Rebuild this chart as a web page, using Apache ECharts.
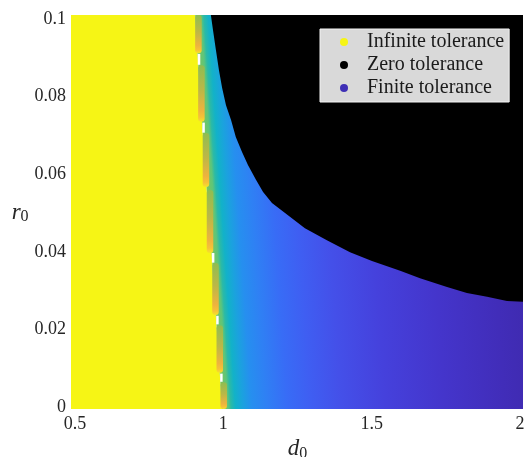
<!DOCTYPE html>
<html><head><meta charset="utf-8">
<script src="https://cdn.jsdelivr.net/npm/echarts@6/dist/echarts.min.js"></script>
<style>html,body{margin:0;padding:0;background:#fff}#c{width:524px;height:457px}</style>
</head><body><div id="c"></div>
<script>
// ---- axis ticks ----
const xTicks = [0.5, 1, 1.5, 2];
const yTicks = [0, 0.02, 0.04, 0.06, 0.08, 0.1];
const xTickLabels = ['0.5', '1', '1.5', '2'];
const yTickLabels = ['0', '0.02', '0.04', '0.06', '0.08', '0.1'];

// ---- boundary of the infinite-tolerance (yellow) region: d0 at given r0 ----
const yellowEdgeR = [0, 0.02, 0.04, 0.06, 0.08, 0.1];
const yellowEdgeD = [0.996, 0.978, 0.960, 0.940, 0.922, 0.905];

// ---- boundary of the zero-tolerance (black) region ----
const zeroEdgeD = [0.958, 0.965, 0.975, 0.985, 0.996, 1.009, 1.026, 1.042, 1.063, 1.083, 1.110, 1.134, 1.164, 1.208, 1.275, 1.349, 1.427, 1.501, 1.596, 1.663, 1.754, 1.821, 1.889, 1.956, 2.0];
const zeroEdgeR = [0.1, 0.0972, 0.0920, 0.0869, 0.0822, 0.0778, 0.0740, 0.0696, 0.0657, 0.0624, 0.0586, 0.0554, 0.0526, 0.0500, 0.0461, 0.0430, 0.0399, 0.0376, 0.0351, 0.0332, 0.0309, 0.0294, 0.0284, 0.0273, 0.0271];

// ---- finite tolerance colour vs. distance (in d0) from the yellow edge ----
const finiteDist = [0, 0.02, 0.03, 0.045, 0.07, 0.10, 0.15, 0.22, 0.30, 0.40, 0.55, 0.75, 0.95, 1.1];
const finiteColors = ['#7cc65c', '#5ec57a', '#2bbaa6', '#12b2c8', '#1ba2de', '#268fef', '#2f80f4', '#386cf6', '#3f5ef2', '#4450e9', '#4541dc', '#4435cb', '#412db9', '#3e29ab'];

// ---- transition stripe segments along the yellow edge (r0 top / bottom) ----
const stripeTopR = [0.1, 0.0881, 0.0706, 0.0559, 0.0371, 0.0211, 0.0064];
const stripeBottomR = [0.0912, 0.0735, 0.0567, 0.0397, 0.0237, 0.0088, 0];
const gapTopR = [0.0910, 0.0733, 0.0397, 0.0235, 0.0086];
const gapBottomR = [0.0882, 0.0707, 0.0372, 0.0213, 0.0065];

const seriesNames = ['Infinite tolerance', 'Zero tolerance', 'Finite tolerance'];
const seriesColors = ['#f6f515', '#000000', '#3e2fb5'];

const X_MIN = 0.5, X_MAX = 2, Y_MIN = 0, Y_MAX = 0.1;
const PAD = { l: 4, r: 3, t: 4, b: 2 };

function edgeD(r) {
  r = Math.max(Y_MIN, Math.min(Y_MAX, r));
  for (let i = 0; i < yellowEdgeR.length - 1; i++) {
    if (r <= yellowEdgeR[i + 1]) {
      const t = (r - yellowEdgeR[i]) / (yellowEdgeR[i + 1] - yellowEdgeR[i]);
      return yellowEdgeD[i] + t * (yellowEdgeD[i + 1] - yellowEdgeD[i]);
    }
  }
  return yellowEdgeD[yellowEdgeD.length - 1];
}
function P(api, d, r) {
  const p = api.coord([d, r]).slice();
  if (d <= X_MIN) p[0] -= PAD.l;
  if (d >= X_MAX) p[0] += PAD.r;
  if (r >= Y_MAX) p[1] -= PAD.t;
  if (r <= Y_MIN) p[1] += PAD.b;
  return p;
}

const yellowData = yellowEdgeD.map((d, i) => [d, yellowEdgeR[i]]);
const zeroData = zeroEdgeD.map((d, i) => [d, zeroEdgeR[i]]);
const stripeData = stripeTopR.map((t, i) => [edgeD(t), t, stripeBottomR[i]]);
const gapData = gapTopR.map((t, i) => [edgeD((t + gapBottomR[i]) / 2), t, gapBottomR[i]]);

function renderYellow(params, api) {
  if (params.dataIndex !== 0) return null;
  const pts = [P(api, X_MIN, Y_MIN), P(api, X_MIN, Y_MAX)];
  for (let i = yellowEdgeR.length - 1; i >= 0; i--) pts.push(P(api, yellowEdgeD[i], yellowEdgeR[i]));
  return { type: 'polygon', shape: { points: pts }, style: { fill: seriesColors[0] } };
}
function renderFinite(params, api) {
  if (params.dataIndex !== 0) return null;
  const pts = [];
  for (let i = 0; i < yellowEdgeR.length; i++) pts.push(P(api, yellowEdgeD[i], yellowEdgeR[i]));
  pts.push(P(api, X_MAX, Y_MAX));
  pts.push(P(api, X_MAX, Y_MIN));
  const p0 = api.coord([yellowEdgeD[0], yellowEdgeR[0]]);
  const p1 = api.coord([yellowEdgeD[yellowEdgeD.length - 1], yellowEdgeR[yellowEdgeR.length - 1]]);
  let nx = -(p1[1] - p0[1]), ny = p1[0] - p0[0];
  const nl = Math.hypot(nx, ny); nx /= nl; ny /= nl;
  const span = finiteDist[finiteDist.length - 1];
  const L = api.size([span, 0])[0];
  const stops = finiteDist.map((d, i) => ({ offset: d / span, color: finiteColors[i] }));
  return {
    type: 'polygon', shape: { points: pts },
    style: { fill: { type: 'linear', x: p0[0], y: p0[1], x2: p0[0] + nx * L, y2: p0[1] + ny * L, colorStops: stops, global: true } }
  };
}
function renderStripe(params, api) {
  const top = P(api, api.value(0), api.value(1));
  const bot = P(api, api.value(0), api.value(2));
  return {
    type: 'rect',
    shape: { x: top[0], y: top[1], width: 6.5, height: bot[1] - top[1], r: 3 },
    style: { fill: { type: 'linear', x: 0, y: 0, x2: 0, y2: 1, colorStops: [
      { offset: 0, color: '#8fbd52' }, { offset: 0.45, color: '#bdb746' },
      { offset: 0.8, color: '#eeb33e' }, { offset: 0.92, color: '#f7c236' }, { offset: 1, color: '#f4e42a' }] } }
  };
}
function renderGap(params, api) {
  const top = P(api, api.value(0), api.value(1));
  const bot = P(api, api.value(0), api.value(2));
  return { type: 'rect', shape: { x: top[0], y: top[1], width: 2.5, height: bot[1] - top[1] }, style: { fill: '#ffffff' } };
}
function renderZero(params, api) {
  if (params.dataIndex !== 0) return null;
  const pts = [];
  for (let i = 0; i < zeroEdgeD.length; i++) pts.push(P(api, zeroEdgeD[i], zeroEdgeR[i]));
  pts.push(P(api, X_MAX, Y_MAX));
  return { type: 'polygon', shape: { points: pts }, style: { fill: seriesColors[1] } };
}

function fmt(ticks, labels) {
  return v => { let best = 0; for (let i = 1; i < ticks.length; i++) if (Math.abs(ticks[i] - v) < Math.abs(ticks[best] - v)) best = i; return labels[best]; };
}

const FONT = '"Liberation Serif", "Times New Roman", serif';
const nameRich = {
  i: { fontFamily: FONT, fontStyle: 'italic', fontSize: 23, lineHeight: 24, color: '#262626' },
  s: { fontFamily: FONT, fontSize: 16, lineHeight: 15, verticalAlign: 'bottom', color: '#262626' }
};
const chart = echarts.init(document.getElementById('c'));
chart.setOption({
  animation: false,
  backgroundColor: '#ffffff',
  grid: { left: 75, right: 4, top: 19, bottom: 50, containLabel: false, outerBoundsMode: 'none' },
  xAxis: {
    type: 'value', min: X_MIN, max: X_MAX, interval: xTicks[1] - xTicks[0],
    axisLine: { show: false }, axisTick: { show: false }, splitLine: { show: false },
    axisLabel: { formatter: fmt(xTicks, xTickLabels), fontFamily: FONT, fontSize: 18, color: '#262626', margin: 8 },
    name: '{i|d}{s|0}', nameLocation: 'middle', nameGap: 24,
    nameTextStyle: { rich: nameRich }
  },
  yAxis: {
    type: 'value', min: Y_MIN, max: Y_MAX, interval: yTicks[1] - yTicks[0],
    axisLine: { show: false }, axisTick: { show: false }, splitLine: { show: false },
    axisLabel: { formatter: fmt(yTicks, yTickLabels), fontFamily: FONT, fontSize: 18, color: '#262626', margin: 9 },
    name: '{i|r}{s|0}', nameLocation: 'middle', nameRotate: 0, nameGap: 43,
    nameTextStyle: { rich: nameRich }
  },
  legend: {
    data: seriesNames.map(n => ({ name: n, icon: 'circle' })),
    orient: 'vertical', left: 320, top: 29,
    padding: [2, 5, 3, 20], itemGap: 1, itemWidth: 8, itemHeight: 8,
    backgroundColor: '#d9d9d9', borderColor: '#f4f4f4', borderWidth: 1, borderRadius: 0,
    selectedMode: false,
    textStyle: { fontFamily: FONT, fontSize: 20, lineHeight: 22, color: '#1a1a1a', padding: [0, 0, 0, 14] }
  },
  series: [
    { type: 'custom', name: seriesNames[0], data: yellowData, renderItem: renderYellow, itemStyle: { color: seriesColors[0] }, silent: true },
    { type: 'custom', name: seriesNames[2], data: yellowData, renderItem: renderFinite, itemStyle: { color: seriesColors[2] }, silent: true },
    { type: 'custom', name: 'stripe', data: stripeData, encode: { x: 0, y: [1, 2] }, renderItem: renderStripe, silent: true },
    { type: 'custom', name: 'gap', data: gapData, encode: { x: 0, y: [1, 2] }, renderItem: renderGap, silent: true },
    { type: 'custom', name: seriesNames[1], data: zeroData, renderItem: renderZero, itemStyle: { color: seriesColors[1] }, silent: true }
  ]
});
</script>
</body></html>
